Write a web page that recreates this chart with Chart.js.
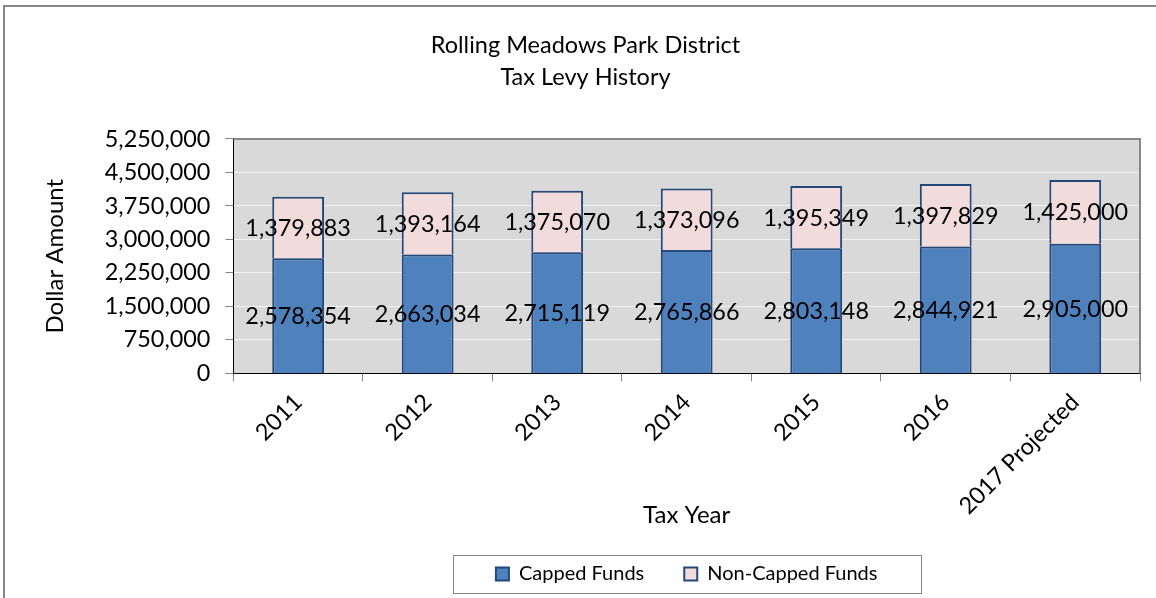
<!DOCTYPE html>
<html>
<head>
<meta charset="utf-8">
<script src="https://cdn.jsdelivr.net/npm/chart.js@4/dist/chart.umd.min.js"></script>
<style>
  html, body { margin: 0; padding: 0; background: #fff; }
  #wrap { position: relative; width: 1156px; height: 598px; }
</style>
</head>
<body>
<div id="wrap"><canvas id="myChart" width="1156" height="598"></canvas></div>
<script>
const years = ['2011', '2012', '2013', '2014', '2015', '2016', '2017 Projected'];
const cappedFunds = [2578354, 2663034, 2715119, 2765866, 2803148, 2844921, 2905000];
const nonCappedFunds = [1379883, 1393164, 1375070, 1373096, 1395349, 1397829, 1425000];
const yTicks = [0, 750000, 1500000, 2250000, 3000000, 3750000, 4500000, 5250000];

const FONT = 'Lato, Calibri, sans-serif';

function fmt(v) {
    return Number(v).toLocaleString('en-US');
}

// background, frame and plot area
const backdrop = {
    id: 'backdrop',
    beforeDraw(chart) {
        let ctx = chart.ctx;
        let a = chart.chartArea;
        ctx.save();
        ctx.fillStyle = '#fff';
        ctx.fillRect(0, 0, chart.width, chart.height);
        ctx.strokeStyle = '#868686';
        ctx.lineWidth = 2;
        ctx.beginPath();
        ctx.moveTo(4, chart.height + 2);
        ctx.lineTo(4, 6);
        ctx.lineTo(chart.width + 2, 6);
        ctx.stroke();
        ctx.fillStyle = '#D9D9D9';
        ctx.fillRect(a.left, a.top, a.right - a.left, a.bottom - a.top);
        ctx.restore();
    },
    beforeDatasetsDraw(chart) {
        let ctx = chart.ctx;
        let a = chart.chartArea;
        ctx.save();
        ctx.strokeStyle = '#868686';
        ctx.lineWidth = 2;
        ctx.beginPath();
        ctx.moveTo(a.left, a.top);
        ctx.lineTo(a.right, a.top);
        ctx.lineTo(a.right, a.bottom);
        ctx.stroke();
        ctx.restore();
    },
    afterDraw(chart) {
        // box around legend
        let lg = chart.legend;
        if (!lg || !lg.legendHitBoxes.length) return;
        let ctx = chart.ctx;
        let cx = (chart.chartArea.left + chart.chartArea.right) / 2;
        let hb = lg.legendHitBoxes[0];
        let cy = hb.top + hb.height / 2;
        ctx.save();
        ctx.strokeStyle = '#868686';
        ctx.lineWidth = 1;
        ctx.strokeRect(Math.round(cx - 234) + 0.5, Math.round(cy - 19) + 0.5, 468, 38);
        ctx.restore();
    }
};

// value labels in the middle of each segment
const segmentLabels = {
    id: 'segmentLabels',
    afterDatasetsDraw(chart) {
        let ctx = chart.ctx;
        ctx.save();
        ctx.font = '23.4px ' + FONT;
        ctx.fillStyle = '#000';
        ctx.textAlign = 'center';
        ctx.textBaseline = 'middle';
        chart.data.datasets.forEach(function (ds, i) {
            let meta = chart.getDatasetMeta(i);
            meta.data.forEach(function (bar, j) {
                let y = (bar.y + bar.base) / 2;
                ctx.fillText(fmt(ds.data[j]), bar.x, y + 1);
            });
        });
        ctx.restore();
    }
};

let ctx = document.getElementById('myChart').getContext('2d');
let myChart = new Chart(ctx, {
    type: 'bar',
    data: {
        labels: years,
        datasets: [{
            label: 'Capped Funds',
            data: cappedFunds,
            backgroundColor: '#4F81BD',
            borderColor: '#22497A',
            borderWidth: 2
        }, {
            label: 'Non-Capped Funds',
            data: nonCappedFunds,
            backgroundColor: '#F2DCDB',
            borderColor: '#22497A',
            borderWidth: 2
        }]
    },
    options: {
        responsive: false,
        animation: false,
        layout: { padding: { left: 31, right: 16, top: 30, bottom: 4 } },
        datasets: {
            bar: { categoryPercentage: 1, barPercentage: 0.4 }
        },
        plugins: {
            title: {
                display: true,
                text: ['Rolling Meadows Park District', 'Tax Levy History'],
                color: '#000',
                font: { family: FONT, size: 23.5, weight: 'normal', lineHeight: 1.34 },
                padding: { top: 0, bottom: 46 }
            },
            legend: {
                position: 'bottom',
                fullSize: false,
                labels: {
                    color: '#000',
                    font: { family: FONT, size: 20 },
                    boxWidth: 13,
                    boxHeight: 13,
                    padding: 40
                }
            },
            tooltip: { enabled: false }
        },
        scales: {
            x: {
                stacked: true,
                grid: {
                    drawOnChartArea: false,
                    drawTicks: true,
                    tickLength: 8,
                    tickColor: '#868686'
                },
                border: { color: '#000', width: 1 },
                ticks: {
                    color: '#000',
                    font: { family: FONT, size: 23.4 },
                    minRotation: 45,
                    maxRotation: 45,
                    padding: 7
                },
                title: {
                    display: true,
                    text: 'Tax Year',
                    color: '#000',
                    font: { family: FONT, size: 24 },
                    padding: { top: -26, bottom: -6 }
                }
            },
            y: {
                stacked: true,
                min: 0,
                max: 5250000,
                afterBuildTicks(axis) {
                    axis.ticks = yTicks.map(function (v) { return { value: v }; });
                },
                grid: {
                    color: '#F2F2F2',
                    lineWidth: 1,
                    tickLength: 8,
                    tickColor: '#868686'
                },
                border: { color: '#000', width: 1 },
                ticks: {
                    color: '#000',
                    font: { family: FONT, size: 23.4 },
                    padding: 15,
                    callback: function (v) { return fmt(v); }
                },
                title: {
                    display: true,
                    text: 'Dollar Amount',
                    color: '#000',
                    font: { family: FONT, size: 24 },
                    padding: { top: 9.6, bottom: 20.4 }
                }
            }
        }
    },
    plugins: [backdrop, segmentLabels]
});
</script>
</body>
</html>
